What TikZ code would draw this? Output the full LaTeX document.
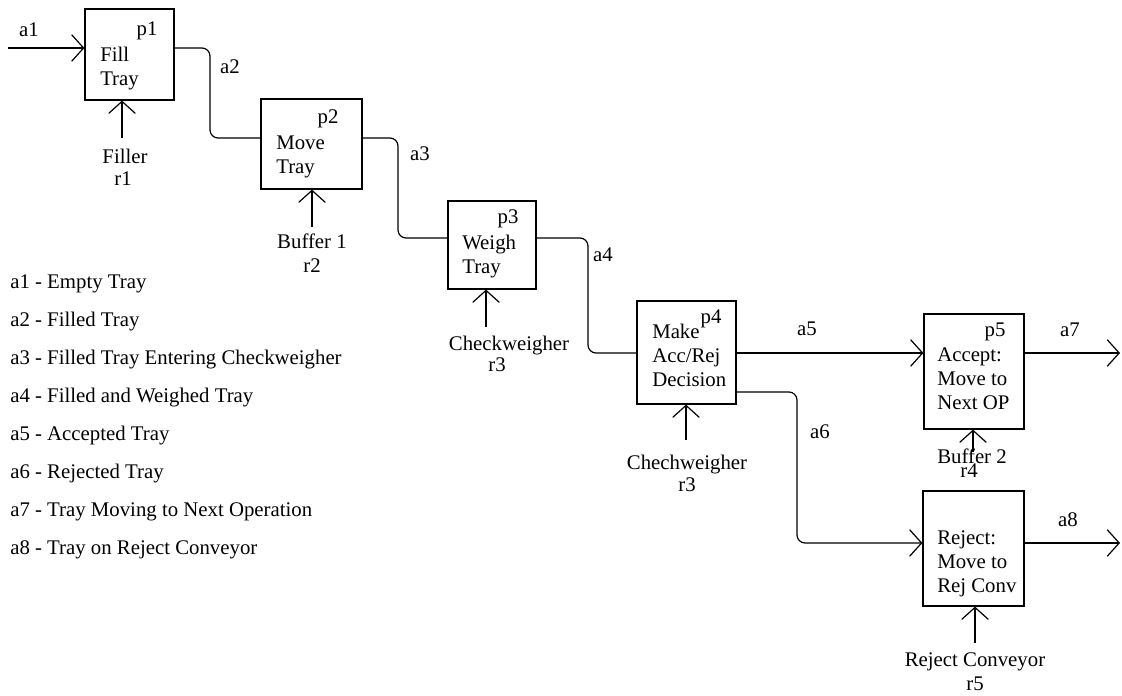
\documentclass[tikz,border=0pt]{standalone}
\usepackage{fontspec}
\setmainfont{Liberation Serif}
\usetikzlibrary{arrows.meta,calc}
\begin{document}
\begin{tikzpicture}[x=0.75pt,y=-0.75pt,
  every node/.style={font=\fontsize{15.6}{18}\selectfont, inner sep=0pt},
  lbl/.style={text height=0.7em, text depth=0.2em},
  leg/.style={lbl, anchor=west},
  proc/.style={draw, line width=0.9pt},
  boxtxt/.style={anchor=base west, align=left},
  conn/.style={line width=0.9pt, rounded corners=6pt},
  arr/.style={line width=0.9pt, rounded corners=6pt, -{Straight Barb[length=9pt,width=20pt,line width=0.9pt]}}]
\useasboundingbox (0,0) rectangle (1122,696);

% process boxes
\node[proc, minimum width=66.75pt, minimum height=68.25pt] (p1) at (129.5,54.5) {};
\node[proc, minimum width=75.75pt, minimum height=67.5pt] (p2) at (311.5,144) {};
\node[proc, minimum width=66pt, minimum height=66pt] (p3) at (492,245) {};
\node[proc, minimum width=74.25pt, minimum height=77.25pt] (p4) at (686.5,352.5) {};
\node[proc, minimum width=75pt, minimum height=86.25pt] (p5) at (974,371.5) {};
\node[proc, minimum width=75.75pt, minimum height=86.25pt] (p6) at (973.5,548.5) {};

% box texts (anchored at the baseline of the last line)
\node[lbl] (p1l) at (147,32) {p1};
\node[boxtxt] (p1t) at (100,85) {Fill\\Tray};
\node[lbl] (p2l) at (328,120) {p2};
\node[boxtxt] (p2t) at (276,173) {Move\\Tray};
\node[lbl] (p3l) at (508,220) {p3};
\node[boxtxt] (p3t) at (462,273) {Weigh\\Tray};
\node[lbl] (p4l) at (711,320) {p4};
\node[boxtxt] (p4t) at (652,386) {Make\\Acc/Rej\\Decision};
\node[lbl] (p5l) at (995,333) {p5};
\node[boxtxt] (p5t) at (937,409) {Accept:\\Move to\\Next OP};
\node[boxtxt] (p6t) at (937,592) {Reject:\\Move to\\Rej Conv};

% helper coordinates
\coordinate (a1s) at (8,48);
\coordinate (y48) at (0,48);
\coordinate (y138) at (0,138);
\coordinate (y238) at (0,238);
\coordinate (y353) at (0,353);
\coordinate (y392) at (0,392);
\coordinate (y543) at (0,543);
\coordinate (x210) at (210,0);
\coordinate (x398) at (398,0);
\coordinate (x588) at (588,0);
\coordinate (x797) at (797,0);
\coordinate (a7e) at (1120,353);
\coordinate (a8e) at (1120,543);

% flow connectors
\draw[arr] (a1s) -- (p1.west |- a1s);
\draw[conn] (p1.east |- y48) -- (x210 |- y48) -- (x210 |- y138) -- (p2.west |- y138);
\draw[conn] (p2.east |- y138) -- (x398 |- y138) -- (x398 |- y238) -- (p3.west |- y238);
\draw[conn] (p3.east |- y238) -- (x588 |- y238) -- (x588 |- y353) -- (p4.west |- y353);
\draw[arr] (p4.east |- y353) -- (p5.west |- y353);
\draw[arr] (p4.east |- y392) -- (x797 |- y392) -- (x797 |- y543) -- (p6.west |- y543);
\draw[arr] (p5.east |- a7e) -- (a7e);
\draw[arr] (p6.east |- a8e) -- (a8e);

% flow labels
\node[lbl] (a1) at (29,33) {a1};
\node[lbl] (a2) at (230,70) {a2};
\node[lbl] (a3) at (420,157) {a3};
\node[lbl] (a4) at (603,258) {a4};
\node[lbl] (a5) at (807,332) {a5};
\node[lbl] (a6) at (820,435) {a6};
\node[lbl] (a7) at (1070,333) {a7};
\node[lbl] (a8) at (1068,523) {a8};

% resource arrows
\coordinate (r1s) at (122,138);
\coordinate (r2s) at (312,227);
\coordinate (r3s) at (486,327);
\coordinate (r3bs) at (686,440);
\coordinate (r4s) at (973,452);
\coordinate (r5s) at (975,643);
\draw[arr] (r1s) -- (p1.south -| r1s);
\draw[arr] (r2s) -- (p2.south -| r2s);
\draw[arr] (r3s) -- (p3.south -| r3s);
\draw[arr] (r3bs) -- (p4.south -| r3bs);
\draw[arr] (r4s) -- (p5.south -| r4s);
\draw[arr] (r5s) -- (p6.south -| r5s);

% resource labels
\node[lbl] (r1n) at (125,160) {Filler};
\node[lbl] (r1) at (123,182) {r1};
\node[lbl] (r2n) at (312,245) {Buffer 1};
\node[lbl] (r2) at (312,269) {r2};
\node[lbl] (r3n) at (509,347) {Checkweigher};
\node[lbl] (r3) at (497,368) {r3};
\node[lbl] (r3bn) at (687,466) {Chechweigher};
\node[lbl] (r3b) at (687,488) {r3};
\node[lbl] (r4n) at (972,460) {Buffer 2};
\node[lbl] (r4) at (969,474) {r4};
\node[lbl] (r5n) at (975,663) {Reject Conveyor};
\node[lbl] (r5) at (975,687) {r5};

% legend
\node[leg] (l1) at (10,285) {a1 - Empty Tray};
\node[leg] (l2) at (10,323) {a2 - Filled Tray};
\node[leg] (l3) at (10,361) {a3 - Filled Tray Entering Checkweigher};
\node[leg] (l4) at (10,399) {a4 - Filled and Weighed Tray};
\node[leg] (l5) at (10,437) {a5 - Accepted Tray};
\node[leg] (l6) at (10,475) {a6 - Rejected Tray};
\node[leg] (l7) at (10,513) {a7 - Tray Moving to Next Operation};
\node[leg] (l8) at (10,551) {a8 - Tray on Reject Conveyor};
\end{tikzpicture}
\end{document}
